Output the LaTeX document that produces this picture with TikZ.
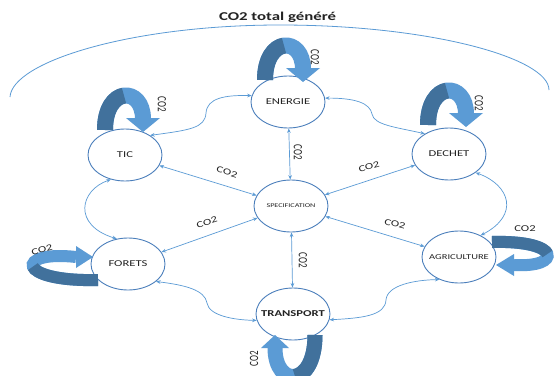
\documentclass[tikz,border=0pt]{standalone}
\usepackage{fontspec}
\setmainfont{Carlito}
\usepackage{graphicx}
\usetikzlibrary{shapes.geometric,arrows.meta}
\definecolor{lineblue}{RGB}{91,155,213}
\definecolor{nodeblue}{RGB}{74,126,187}
\definecolor{loopdark}{RGB}{65,113,156}
\definecolor{looplight}{RGB}{91,155,213}
\definecolor{txt}{RGB}{35,35,35}
\newcommand{\hs}[1]{\scalebox{1.4}[1]{#1}}
\newcommand{\vs}[1]{\scalebox{1}[1.4]{#1}}
\newcommand{\zw}[1]{\makebox[0pt]{#1}}
\begin{document}
\begin{tikzpicture}[x=1pt,y=-1pt,
  nodebox/.style={ellipse, draw=nodeblue, line width=0.9pt, fill=white,
    minimum width=74pt, minimum height=52pt, inner sep=0pt, text=txt,
    font=\fontsize{9}{10}\selectfont},
  conn/.style={draw=lineblue, line width=0.7pt,
    {Stealth[length=4.5pt,width=3.6pt]}-{Stealth[length=4.5pt,width=3.6pt]}},
  lbl/.style={text=txt, font=\fontsize{9}{10}\selectfont, inner sep=0pt},
  uploop/.pic={
    \draw[looplight, line width=16pt] (0,0) .. controls (0,-44) and (38,-44) .. (38,-11);
    \draw[loopdark, line width=16pt] (0,0) .. controls (0,-22) and (9.5,-33) .. (19,-34.4);
    \fill[looplight] (21,-12) -- (55,-12) -- (38,2) -- cycle;
  }]
\useasboundingbox (0,0) rectangle (554,375);
\clip (0,0) rectangle (554,375);
\fill[white] (0,0) rectangle (554,375);

% title and enclosing arc
\node[font=\bfseries\fontsize{12}{14}\selectfont, text=txt, anchor=base] (title) at (277.5,20) {\hs{CO2 total généré}};
\draw[lineblue, line width=0.8pt] (10,97) .. controls (12,62) and (130,25) .. (280,25)
  .. controls (430,25) and (549,58) .. (549,90);

% nodes
\node[nodebox] (ene) at (288,102) {\zw{\hs{ENERGIE}}};
\node[nodebox] (tic) at (125,155) {\zw{\hs{TIC}}};
\node[nodebox] (dec) at (449,154) {\zw{\hs{DECHET}}};
\node[nodebox] (spe) at (291,206) {\zw{\hs{\fontsize{5.8}{7}\selectfont SPECIFICATION}}};
\node[nodebox] (fore) at (128,264) {\zw{\hs{FORETS}}};
\node[nodebox] (agr) at (459,257) {\zw{\hs{\fontsize{7.5}{9}\selectfont AGRICULTURE}}};
\node[nodebox] (tra) at (293,314) {\zw{\hs{\bfseries TRANSPORT}}};

% straight connectors
\draw[conn] (ene) -- (spe);
\draw[conn] (spe) -- (tra);
\draw[conn] (tic) -- (spe);
\draw[conn] (dec) -- (spe);
\draw[conn] (fore) -- (spe);
\draw[conn] (spe) -- (agr);

% curved connectors
\draw[conn] (tic.38) .. controls (190,130) and (205,128) .. (206,113)
  .. controls (207,98) and (225,95) .. (ene.170);
\draw[conn] (ene.6) .. controls (355,98) and (370,103) .. (372,114)
  .. controls (374,125) and (395,127) .. (dec.140);
\draw[conn] (tic.240) .. controls (80,190) and (72,225) .. (fore.114);
\draw[conn] (dec.325) .. controls (510,185) and (520,215) .. (agr.45);
\draw[conn] (fore.328) .. controls (185,285) and (205,290) .. (207,303)
  .. controls (209,316) and (235,320) .. (tra.190);
\draw[conn] (tra.351) .. controls (365,318) and (385,315) .. (386,300)
  .. controls (387,285) and (415,280) .. (agr.229);

% self loops
\pic (loopE) at (265,80) {uploop};
\pic (loopT) at (105,130) {uploop};
\pic (loopD) at (428,125) {uploop};
% FORETS loop
\draw[looplight, line width=12pt] (98,280) .. controls (15,282) and (15,250) .. (76,257);
\draw[loopdark, line width=12pt] (98,280) .. controls (56,281) and (35.5,273.5) .. (32.9,266.6);
\fill[looplight] (76,246) -- (76,268) -- (93,257) -- cycle;
% AGRICULTURE loop
\draw[looplight, line width=12pt] (492,242) .. controls (562,240) and (562,268) .. (514,265);
\draw[loopdark, line width=12pt] (492,242) .. controls (528,241) and (545,247.5) .. (547.5,253.9);
\fill[looplight] (514,254) -- (514,276) -- (496,265) -- cycle;
% TRANSPORT loop
\draw[looplight, line width=15pt] (315,335) .. controls (315,388) and (275,388) .. (275,348);
\draw[loopdark, line width=15pt] (315,335) .. controls (315,361.5) and (305,374.75) .. (295,376.4);
\fill[looplight] (261,348) -- (289,348) -- (275,335) -- cycle;

% labels
\node[lbl, rotate=-90] (cE) at (315,57) {\vs{CO2}};
\node[lbl, rotate=-90] (cT) at (162,104) {\vs{CO2}};
\node[lbl, rotate=-90] (cD) at (479,103) {\vs{CO2}};
\node[lbl, rotate=15] (cF) at (42,250) {\hs{CO2}};
\node[lbl] (cA) at (525,229) {\hs{CO2}};
\node[lbl, rotate=90] (cR) at (254,359) {\vs{CO2}};
\node[lbl, rotate=-90] (cES) at (298,152) {\vs{CO2}};
\node[lbl, rotate=-90] (cST) at (303,260) {\vs{CO2}};
\node[lbl, rotate=-17] (cTS) at (227,172) {\hs{CO2}};
\node[lbl, rotate=16] (cDS) at (369,167) {\hs{CO2}};
\node[lbl, rotate=18] (cFS) at (207,222) {\hs{CO2}};
\node[lbl, rotate=-15] (cSA) at (395,224) {\hs{CO2}};
\end{tikzpicture}
\end{document}
